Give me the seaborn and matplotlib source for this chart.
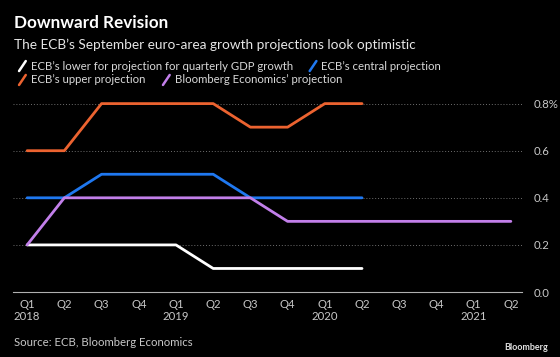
import matplotlib
matplotlib.use("Agg")
import matplotlib.pyplot as plt
import seaborn as sns
import pandas as pd
from matplotlib.lines import Line2D

# quarters Q1 2018 .. Q2 2021
quarters = ["Q1\n2018", "Q2", "Q3", "Q4", "Q1\n2019", "Q2", "Q3", "Q4",
            "Q1\n2020", "Q2", "Q3", "Q4", "Q1\n2021", "Q2"]

ecb_lower = [0.2, 0.2, 0.2, 0.2, 0.2, 0.1, 0.1, 0.1, 0.1, 0.1]
ecb_central = [0.4, 0.4, 0.5, 0.5, 0.5, 0.5, 0.4, 0.4, 0.4, 0.4]
ecb_upper = [0.6, 0.6, 0.8, 0.8, 0.8, 0.8, 0.7, 0.7, 0.8, 0.8]
bbg = [0.2, 0.4, 0.4, 0.4, 0.4, 0.4, 0.4, 0.3, 0.3, 0.3, 0.3, 0.3, 0.3, 0.3]

series_names = ["ECB\u2019s lower for projection for quarterly GDP growth",
                "ECB\u2019s central projection",
                "ECB\u2019s upper projection",
                "Bloomberg Economics\u2019 projection"]
colors = ["#ffffff", "#1f78f0", "#ec6330", "#c27fea"]

yticks = [0.0, 0.2, 0.4, 0.6, 0.8]
ytick_labels = ["0.0", "0.2", "0.4", "0.6", "0.8%"]

sns.set_style("dark")
plt.rcParams["font.family"] = ["Lato", "DejaVu Sans"]

fig = plt.figure(figsize=(5.6, 3.57), dpi=100, facecolor="black")
ax = fig.add_axes([0.0232, 0.182, 0.909, 0.541])
ax.set_facecolor("black")

for vals, name, c in zip([ecb_lower, ecb_central, ecb_upper, bbg], series_names, colors):
    df = pd.DataFrame({"q": range(len(vals)), "v": vals})
    sns.lineplot(data=df, x="q", y="v", ax=ax, color=c, linewidth=2, label=name, legend=False)

ax.set_xlim(-0.38, 13.3)
ax.set_ylim(0, 0.82)
ax.set_xticks(range(len(quarters)))
ax.set_xticklabels(quarters, color="#c8c8c8", fontsize=8.2, linespacing=1.1)
ax.yaxis.tick_right()
ax.set_yticks(yticks)
ax.set_yticklabels(ytick_labels, color="#c8c8c8", fontsize=8.2)
ax.tick_params(axis="y", length=0, pad=8)
ax.tick_params(axis="x", length=4, direction="inout", color="#b0b0b0", width=0.8, pad=3)
ax.set_xlabel("")
ax.set_ylabel("")
for s in ["top", "left", "right"]:
    ax.spines[s].set_visible(False)
ax.spines["bottom"].set_visible(True)
ax.spines["bottom"].set_color("#b0b0b0")
ax.spines["bottom"].set_linewidth(0.8)
ax.grid(False)
for y in yticks[1:]:
    ax.axhline(y, color="#6e6e6e", linestyle=(0, (1, 2)), linewidth=0.7, zorder=0)

# titles
fig.text(0.025, 0.935, "Downward Revision", color="white", fontsize=12.3, fontweight="bold", va="center")
fig.text(0.025, 0.875, "The ECB\u2019s September euro-area growth projections look optimistic",
         color="#e6e6e6", fontsize=9.8, va="center")

# legend rows
def legend_item(x, y, color, text):
    fig.add_artist(Line2D([x, x + 0.012], [y - 0.014, y + 0.014], color=color, lw=1.8,
                          transform=fig.transFigure))
    fig.text(x + 0.021, y, text, color="#d8d8d8", fontsize=8.2, va="center")

legend_item(0.034, 0.815, colors[0], series_names[0])
legend_item(0.553, 0.815, colors[1], series_names[1])
legend_item(0.034, 0.776, colors[2], series_names[2])
legend_item(0.291, 0.776, colors[3], series_names[3])

fig.text(0.025, 0.042, "Source: ECB, Bloomberg Economics", color="#c8c8c8", fontsize=8.2, va="center")
fig.text(0.978, 0.028, "Bloomberg", color="#e0e0e0", fontsize=6.5, fontweight="bold", ha="right", va="center")

fig.savefig("out.png", dpi=100, facecolor="black")
